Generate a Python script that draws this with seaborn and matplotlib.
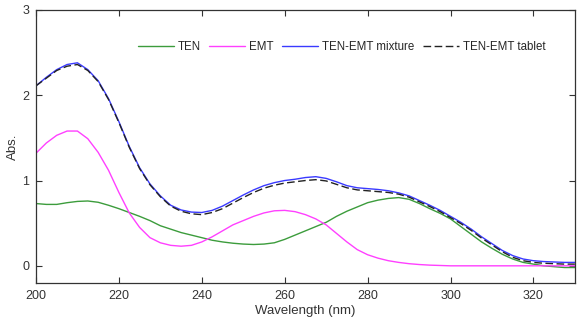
import numpy as np
import pandas as pd
import seaborn as sns
import matplotlib.pyplot as plt

wavelength = [200, 202.5, 205, 207.5, 210, 212.5, 215, 217.5, 220, 222.5, 225, 227.5,
              230, 232.5, 235, 237.5, 240, 242.5, 245, 247.5, 250, 252.5, 255, 257.5,
              260, 262.5, 265, 267.5, 270, 272.5, 275, 277.5, 280, 282.5, 285, 287.5,
              290, 292.5, 295, 297.5, 300, 302.5, 305, 307.5, 310, 312.5, 315, 317.5,
              320, 322.5, 325, 327.5, 330]
ten = [0.73, 0.72, 0.72, 0.74, 0.755, 0.76, 0.745, 0.71, 0.67, 0.625, 0.58, 0.53,
       0.47, 0.43, 0.39, 0.36, 0.33, 0.30, 0.28, 0.265, 0.255, 0.25, 0.255, 0.27,
       0.31, 0.36, 0.41, 0.46, 0.51, 0.58, 0.64, 0.69, 0.74, 0.77, 0.79, 0.80,
       0.78, 0.73, 0.67, 0.615, 0.55, 0.46, 0.37, 0.28, 0.205, 0.135, 0.08, 0.04,
       0.02, 0.0, -0.01, -0.02, -0.02]
emt = [1.32, 1.44, 1.53, 1.58, 1.58, 1.49, 1.33, 1.12, 0.86, 0.62, 0.45, 0.33,
       0.27, 0.24, 0.23, 0.24, 0.28, 0.34, 0.41, 0.48, 0.53, 0.58, 0.62, 0.645,
       0.65, 0.635, 0.60, 0.55, 0.48, 0.38, 0.28, 0.19, 0.13, 0.09, 0.06, 0.04,
       0.025, 0.015, 0.008, 0.004, 0.0, 0.0, 0.0, 0.0, 0.0, 0.0, 0.0, 0.0,
       0.0, 0.0, 0.0, 0.0, 0.0]
mixture = [2.11, 2.21, 2.30, 2.36, 2.38, 2.30, 2.17, 1.96, 1.69, 1.40, 1.15, 0.96,
           0.82, 0.71, 0.655, 0.63, 0.625, 0.65, 0.70, 0.765, 0.83, 0.89, 0.94, 0.975,
           1.00, 1.015, 1.035, 1.045, 1.025, 0.985, 0.94, 0.915, 0.905, 0.895, 0.88, 0.855,
           0.82, 0.765, 0.71, 0.65, 0.58, 0.51, 0.43, 0.34, 0.26, 0.18, 0.12, 0.08,
           0.06, 0.05, 0.045, 0.04, 0.04]
tablet = [2.11, 2.20, 2.29, 2.34, 2.36, 2.29, 2.16, 1.95, 1.68, 1.39, 1.14, 0.95,
          0.81, 0.70, 0.64, 0.61, 0.60, 0.625, 0.67, 0.735, 0.80, 0.86, 0.91, 0.945,
          0.97, 0.985, 1.0, 1.01, 0.995, 0.955, 0.915, 0.89, 0.88, 0.87, 0.86, 0.84,
          0.805, 0.75, 0.695, 0.635, 0.565, 0.495, 0.415, 0.325, 0.245, 0.165, 0.10, 0.06,
          0.04, 0.03, 0.025, 0.02, 0.02]

labels = ["TEN", "EMT", "TEN-EMT mixture", "TEN-EMT tablet"]
colors = ["#3c9c3c", "#ff40ff", "#3a3aff", "#222222"]
styles = ["-", "-", "-", (0, (5.5, 2.5))]

sns.set_style("white")
plt.rcParams["font.family"] = ["Liberation Sans", "DejaVu Sans"]

fig = plt.figure(figsize=(5.86, 3.2), dpi=100)
ax = fig.add_axes([0.0614, 0.116, 0.9196, 0.853])

for name, ys, c, ls in zip(labels, [ten, emt, mixture, tablet], colors, styles):
    df = pd.DataFrame({"wl": wavelength, "abs": ys})
    sns.lineplot(data=df, x="wl", y="abs", ax=ax, color=c, linestyle=ls,
                 linewidth=1.0, label=name)

ax.set_xlim(200, 330)
ax.set_ylim(-0.2, 3)
ax.set_xticks([200, 220, 240, 260, 280, 300, 320])
ax.set_yticks([0, 1, 2, 3])
ax.tick_params(direction="in", length=4, width=0.8, bottom=True, left=True,
               top=True, right=True, labelsize=9, colors="#333333", pad=5)
for s in ax.spines.values():
    s.set_color("#333333")
    s.set_linewidth(0.9)
ax.set_xlabel("Wavelength (nm)", fontsize=9.5, color="#333333", labelpad=2)
ax.set_ylabel("Abs.", fontsize=9.5, color="#333333", labelpad=2)

ax.legend(loc="center", bbox_to_anchor=(0.567, 0.864), ncol=4, frameon=False,
          fontsize=8.3, handlelength=3.1, columnspacing=0.75, handletextpad=0.35)

fig.savefig("out.png", dpi=100)
